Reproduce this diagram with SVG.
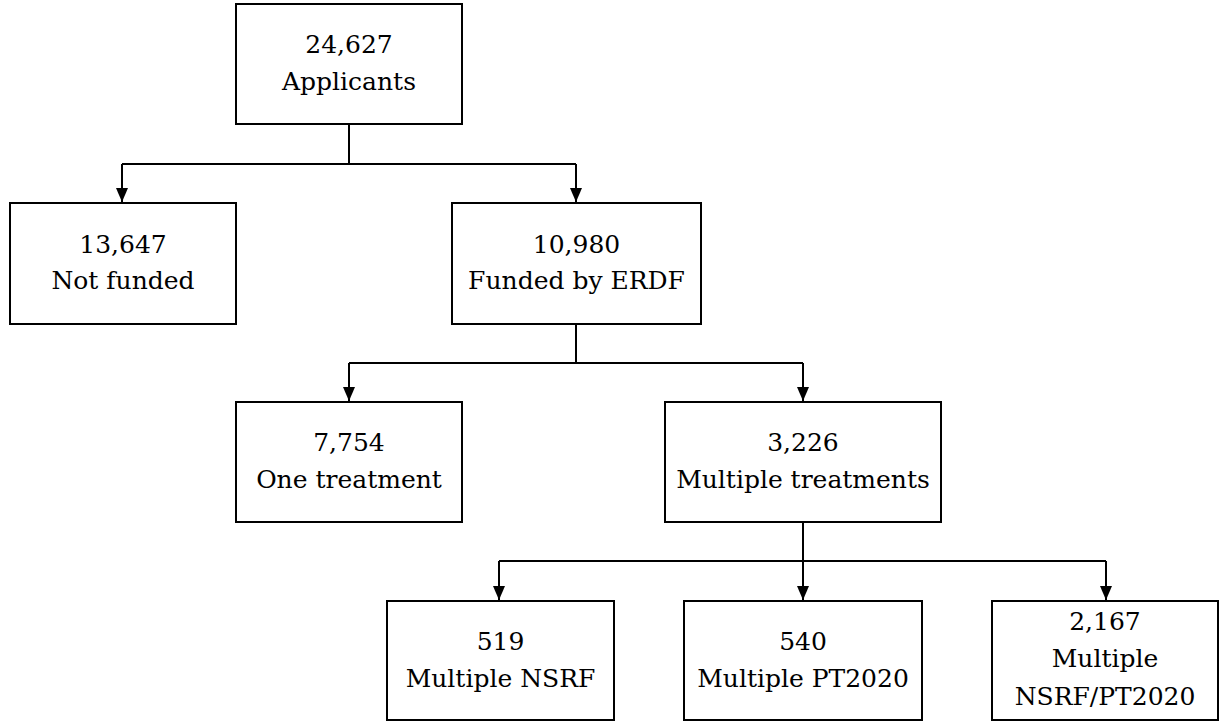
<svg xmlns="http://www.w3.org/2000/svg" width="1220" height="722" viewBox="0 0 1220 722">
<style>
.box{fill:#fff;stroke:#000;stroke-width:2}
.t{font-family:'DejaVu Serif','Liberation Serif',serif;font-size:25px;fill:#000;text-anchor:middle}
.c{fill:none;stroke:#000;stroke-width:2}
</style>
<defs>
<marker id="ah" markerUnits="userSpaceOnUse" markerWidth="12" markerHeight="14" viewBox="0 0 12 14" refX="6" refY="14" orient="0">
<path d="M0,0 L12,0 L6,14 Z" fill="#000"/>
</marker>
</defs>
<rect width="1220" height="722" fill="#fff"/>
<g id="connectors">
<path class="c" d="M349,124 V164"/>
<path class="c" d="M122,164 H576"/>
<path class="c" d="M122,164 V202" marker-end="url(#ah)"/>
<path class="c" d="M576,164 V202" marker-end="url(#ah)"/>
<path class="c" d="M576,324 V363"/>
<path class="c" d="M349,363 H803"/>
<path class="c" d="M349,363 V401" marker-end="url(#ah)"/>
<path class="c" d="M803,363 V401" marker-end="url(#ah)"/>
<path class="c" d="M803,522 V561"/>
<path class="c" d="M499,561 H1106"/>
<path class="c" d="M499,561 V600" marker-end="url(#ah)"/>
<path class="c" d="M803,561 V600" marker-end="url(#ah)"/>
<path class="c" d="M1106,561 V600" marker-end="url(#ah)"/>
</g>
<g id="applicants">
<rect class="box" x="236" y="4" width="226" height="120"/>
<text class="t" x="349" y="53">24,627</text>
<text class="t" x="349" y="90">Applicants</text>
</g>
<g id="not-funded">
<rect class="box" x="10" y="203" width="226" height="121"/>
<text class="t" x="123" y="253">13,647</text>
<text class="t" x="123" y="289">Not funded</text>
</g>
<g id="funded">
<rect class="box" x="452" y="203" width="249" height="121"/>
<text class="t" x="576.5" y="253">10,980</text>
<text class="t" x="576.5" y="289">Funded by ERDF</text>
</g>
<g id="one-treatment">
<rect class="box" x="236" y="402" width="226" height="120"/>
<text class="t" x="349" y="451">7,754</text>
<text class="t" x="349" y="488">One treatment</text>
</g>
<g id="multiple-treatments">
<rect class="box" x="665" y="402" width="276" height="120"/>
<text class="t" x="803" y="451">3,226</text>
<text class="t" x="803" y="488">Multiple treatments</text>
</g>
<g id="multiple-nsrf">
<rect class="box" x="387" y="601" width="227" height="119"/>
<text class="t" x="500.5" y="650">519</text>
<text class="t" x="500.5" y="687">Multiple NSRF</text>
</g>
<g id="multiple-pt2020">
<rect class="box" x="684" y="601" width="238" height="119"/>
<text class="t" x="803" y="650">540</text>
<text class="t" x="803" y="687">Multiple PT2020</text>
</g>
<g id="multiple-nsrf-pt2020">
<rect class="box" x="992" y="601" width="226" height="119"/>
<text class="t" x="1105" y="630">2,167</text>
<text class="t" x="1105" y="667">Multiple</text>
<text class="t" x="1105" y="705">NSRF/PT2020</text>
</g>
</svg>
